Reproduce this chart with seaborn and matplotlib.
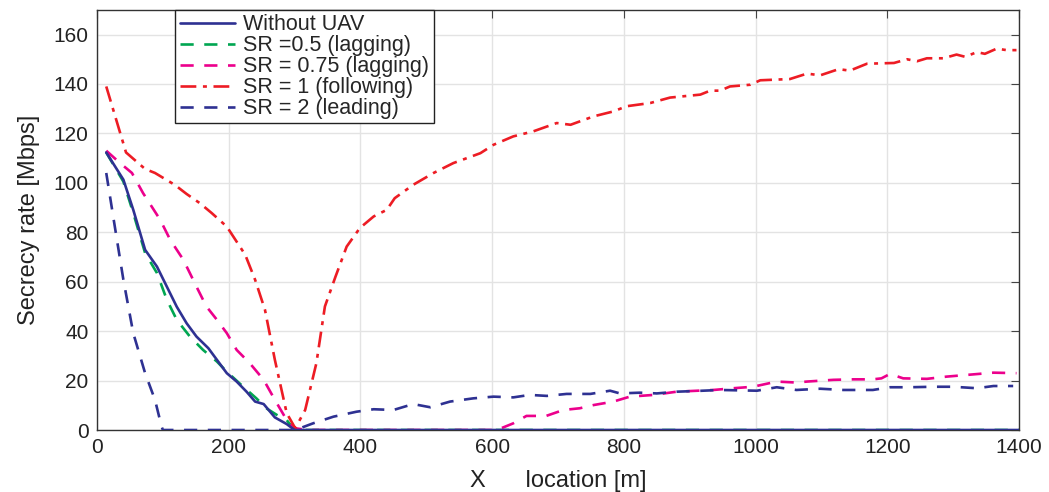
import numpy as np
import pandas as pd
import matplotlib
matplotlib.use("Agg")
import matplotlib.pyplot as plt
import seaborn as sns

# Without UAV
x_no_uav = [14, 40, 55, 73, 91, 106, 121, 136, 151, 169, 182, 197, 212, 227, 240, 253, 270, 288, 300, 320, 1400]
y_no_uav = [112.3, 101.3, 89.1, 72.9, 66.1, 58.0, 49.9, 43.2, 37.8, 33.1, 28.4, 23.0, 19.6, 15.5, 11.5, 10.5, 5.1, 2.4, 0.0, 0.0, 0.0]

# SR = 0.5 (lagging)
x_sr05 = [14, 40, 55, 73, 91, 106, 121, 141, 161, 182, 197, 222, 242, 257, 273, 288, 300, 1400]
y_sr05 = [112.3, 100.5, 87.8, 71.6, 63.5, 52.7, 44.6, 37.8, 32.4, 27.7, 23.6, 17.5, 12.8, 8.8, 6.1, 4.0, 0.0, 0.0]

# SR = 0.75 (lagging)
x_sr075 = [14, 35, 53, 70, 96, 111, 131, 151, 166, 182, 197, 212, 232, 253, 270, 285, 298, 320, 590,
           607, 632, 652, 682, 708, 733, 754, 784, 809, 845, 880, 936, 966, 996, 1032, 1062, 1078,
           1118, 1148, 1178, 1191, 1204, 1224, 1260, 1290, 1330, 1361, 1396]
y_sr075 = [113.0, 108.0, 104.0, 95.8, 85.0, 77.0, 68.9, 58.0, 50.0, 44.6, 39.2, 32.4, 27.0, 20.3, 12.2, 5.4, 0.8, 0.0, 0.0,
           0.0, 2.7, 5.7, 5.7, 8.1, 8.8, 10.1, 11.5, 13.5, 14.2, 15.5, 16.2, 16.9, 17.5, 19.6, 19.2, 19.6,
           20.3, 20.5, 20.5, 20.9, 22.7, 20.9, 20.7, 21.6, 22.5, 23.2, 23.0]

# SR = 1 (following)
x_sr1 = [14, 44, 73, 88, 118, 136, 156, 174, 197, 225, 240, 255, 270, 288, 301, 316, 333, 346, 362,
         379, 399, 420, 440, 452, 480, 511, 541, 582, 602, 632, 662, 698, 719, 754, 784, 804, 840,
         870, 916, 931, 946, 961, 992, 1007, 1052, 1078, 1098, 1126, 1143, 1169, 1210, 1230, 1245,
         1260, 1285, 1305, 1318, 1336, 1348, 1366, 1381, 1396]
y_sr1 = [139.0, 112.3, 105.6, 104.0, 99.2, 95.5, 91.8, 87.8, 82.3, 70.9, 60.8, 48.6, 28.4, 6.8, 0.7, 8.1, 27.0, 50.0, 62.0,
         74.2, 81.7, 86.4, 89.1, 93.8, 99.2, 104.0, 108.0, 112.0, 115.4, 118.8, 120.8, 124.2, 123.5, 126.9, 128.9, 131.0, 132.3,
         134.5, 135.7, 137.3, 137.3, 139.0, 139.7, 141.5, 142.0, 144.2, 143.5, 146.0, 145.4, 148.2, 148.5, 150.0, 149.2,
         150.4, 150.4, 151.9, 151.0, 152.9, 152.2, 154.3, 153.7, 153.7]

# SR = 2 (leading)
x_sr2 = [14, 27, 40, 55, 73, 88, 98, 100, 300, 308, 328, 359, 394, 420, 450, 480, 506, 536, 571, 602,
         632, 657, 683, 713, 749, 779, 794, 824, 850, 880, 911, 946, 1002, 1032, 1062, 1098, 1133,
         1178, 1204, 1234, 1270, 1300, 1336, 1361, 1391]
y_sr2 = [104.0, 82.3, 60.8, 39.2, 23.0, 12.2, 1.4, 0.0, 0.0, 0.7, 2.7, 5.4, 7.4, 8.4, 8.1, 10.5, 9.2, 11.5, 12.8, 13.5,
         13.2, 14.2, 13.8, 14.6, 14.6, 15.9, 14.8, 15.1, 14.8, 15.5, 15.8, 16.2, 15.9, 17.3, 16.2, 16.7, 16.2,
         16.2, 17.3, 17.3, 17.5, 17.5, 16.9, 17.8, 17.8]

series = [
    ("SR =0.5 (lagging)", x_sr05, y_sr05, "#00A651", (0, (5, 4)), 2),
    ("SR = 0.75 (lagging)", x_sr075, y_sr075, "#EC008C", (0, (5, 4)), 3),
    ("SR = 1 (following)", x_sr1, y_sr1, "#ED1C24", (0, (6, 2.5, 1.5, 2.5)), 4),
    ("SR = 2 (leading)", x_sr2, y_sr2, "#2E3192", (0, (5, 4)), 5),
    ("Without UAV", x_no_uav, y_no_uav, "#2E3192", "-", 6),
]
legend_order = ["Without UAV", "SR =0.5 (lagging)", "SR = 0.75 (lagging)", "SR = 1 (following)", "SR = 2 (leading)"]

sns.set_style("whitegrid")
plt.rcParams["font.family"] = ["Liberation Sans", "DejaVu Sans"]

fig, ax = plt.subplots(figsize=(10.49, 4.92), dpi=100)
fig.subplots_adjust(left=0.0925, right=0.9715, top=0.98, bottom=0.126)

handles = {}
for name, xs, ys, col, ls, z in series:
    df = pd.DataFrame({"x": xs, "y": ys})
    sns.lineplot(data=df, x="x", y="y", ax=ax, color=col, linewidth=1.9,
                 estimator=None, sort=False, zorder=z)
    line = ax.lines[-1]
    line.set_linestyle(ls)
    handles[name] = line

ax.set_xlim(0, 1400)
ax.set_ylim(0, 170)
ax.set_xticks(np.arange(0, 1401, 200))
ax.set_yticks(np.arange(0, 161, 20))
ax.grid(True, color="#e3e3e3", linewidth=1.0)
for sp in ax.spines.values():
    sp.set_color("#333333")
    sp.set_linewidth(1.0)
ax.tick_params(direction="in", length=6, color="#444444", top=True, right=True,
               labelsize=15, labelcolor="#222222", pad=6)

ax.set_xlabel("X      location [m]", fontsize=17, color="#222222", labelpad=9)
ax.set_ylabel("Secrecy rate [Mbps]", fontsize=17, color="#222222", labelpad=10)

leg = ax.legend([handles[n] for n in legend_order], legend_order, loc="upper left",
                bbox_to_anchor=(0.085, 1.0), borderaxespad=0, fontsize=15.5,
                frameon=True, fancybox=False, handlelength=2.55, labelspacing=0.0,
                borderpad=0.2, handletextpad=0.4)
leg.get_frame().set_edgecolor("#222222")
leg.get_frame().set_linewidth(1.0)
leg.get_frame().set_alpha(1.0)

fig.savefig("out.png", dpi=100)
